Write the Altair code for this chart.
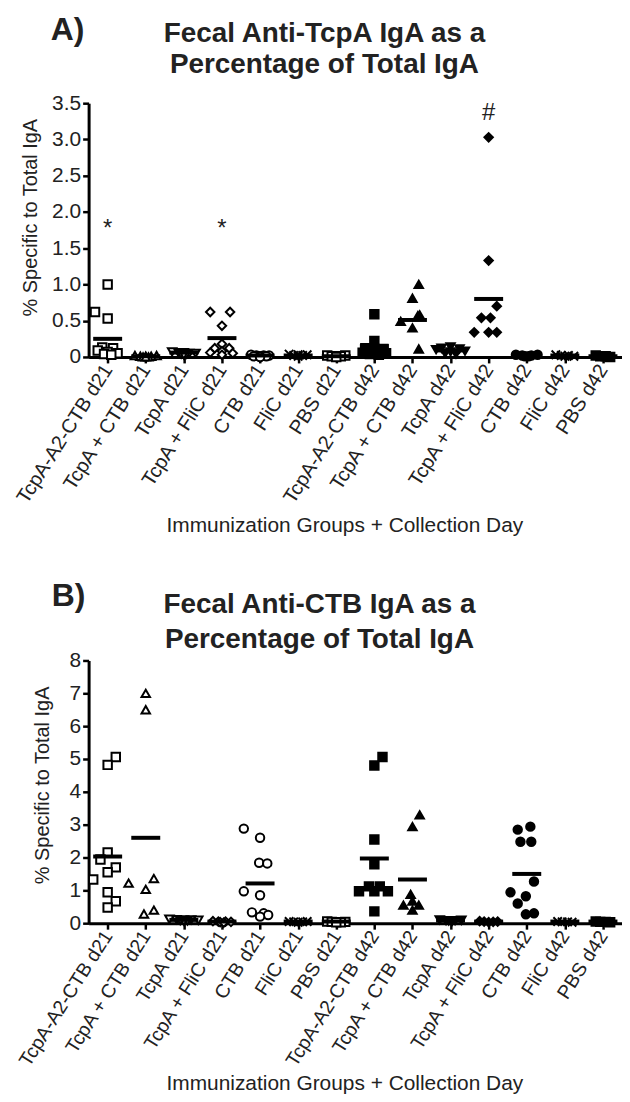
import altair as alt
import pandas as pd

groups = ["TcpA-A2-CTB d21", "TcpA + CTB d21", "TcpA d21", "TcpA + FliC d21", "CTB d21",
          "FliC d21", "PBS d21", "TcpA-A2-CTB d42", "TcpA + CTB d42", "TcpA d42",
          "TcpA + FliC d42", "CTB d42", "FliC d42", "PBS d42"]
bases = ["TcpA-A2-CTB", "TcpA + CTB", "TcpA", "TcpA + FliC", "CTB", "FliC", "PBS"]
shapes = ["square", "triangle-up", "triangle-down", "diamond", "circle",
          "M-1,-1L1,1M-1,1L1,-1", "square"]

# ---------------- Panel A: anti-TcpA (values, horizontal spread) ----------------
a00 = [1.00, 0.62, 0.53, 0.13, 0.12, 0.09, 0.07, 0.05, 0.04, 0.03]
a00j = [0, -1.4, 0, -0.6, 0.6, -1.1, 0, 1.1, -0.4, 0.4]
a01 = [0.02, 0.02, 0.01, 0.01, 0.01, 0.0, 0.0, 0.0]
a01j = [-1.2, 1.2, -0.6, 0, 0.6, -0.3, 0.3, 0]
a02 = [0.07, 0.06, 0.06, 0.05, 0.05, 0.04, 0.04, 0.03]
a02j = [-1.3, -0.6, 0, 0.6, 1.3, -0.3, 0.3, 0]
a03 = [0.62, 0.62, 0.43, 0.18, 0.12, 0.12, 0.08, 0.06, 0.05, 0.03]
a03j = [-1.3, 0.9, 0, 0, -0.8, 0.8, 0, -1.3, 1.2, 0]
a04 = [0.03, 0.02, 0.02, 0.02, 0.01, 0.01, 0.01, 0.0]
a04j = [-1.0, -0.4, 0.4, 1.0, -0.7, 0, 0.7, 0]
a05 = [0.04, 0.03, 0.03, 0.02, 0.02, 0.01]
a05j = [-1.0, 0, 1.0, -0.5, 0.5, 0]
a06 = [0.02, 0.02, 0.01, 0.01, 0.0]
a06j = [-1.0, 1.0, -0.5, 0.5, 0]
a07 = [0.59, 0.22, 0.12, 0.11, 0.11, 0.08, 0.06, 0.05, 0.04, 0.03]
a07j = [0, 0, -1.0, 0, 1.0, 0, -1.3, 1.3, -0.5, 0.5]
a08 = [1.00, 0.81, 0.58, 0.57, 0.49, 0.40, 0.11]
a08j = [0.7, 0, 0.8, 0.6, -1.3, 0, 0.7]
a09 = [0.14, 0.12, 0.11, 0.10, 0.08, 0.07, 0.05, 0.04]
a09j = [0, -1.0, 1.0, -1.6, 1.6, 0, -0.6, 0.6]
a10 = [3.03, 1.33, 0.70, 0.54, 0.54, 0.34, 0.34, 0.34]
a10j = [0, 0, 0.9, -0.8, 0.2, -1.6, 0, 0.9]
a11 = [0.03, 0.03, 0.02, 0.02, 0.01, 0.01]
a11j = [-1.2, 1.2, -0.5, 0.5, -0.2, 0.2]
a12 = [0.03, 0.02, 0.02, 0.01, 0.01]
a12j = [-1.0, -0.4, 0.4, 1.0, 0]
a13 = [0.02, 0.01, 0.01, 0.0]
a13j = [-0.8, -0.3, 0.3, 0.8]
a_means = [0.25, 0.01, 0.06, 0.26, 0.02, 0.02, 0.01, 0.15, 0.51, 0.09, 0.80, 0.02, 0.02, 0.01]
a_marks = ["*", "*", "#"]
a_mark_groups = [0, 3, 10]
a_mark_values = [1.76, 1.76, 3.36]

# ---------------- Panel B: anti-CTB ----------------
b00 = [5.06, 4.82, 2.15, 1.94, 1.70, 1.55, 1.33, 0.94, 0.67, 0.48]
b00j = [0.9, 0, 0, -0.8, 0.9, 0, -1.6, 0, 0.9, 0]
b01 = [7.00, 6.50, 1.36, 1.22, 1.03, 0.40, 0.28]
b01j = [0, 0, 0.9, -1.9, 0, 0.9, -0.2]
b02 = [0.12, 0.11, 0.10, 0.10, 0.09, 0.08, 0.07, 0.06]
b02j = [-1.6, -0.8, 0, 0.8, 1.6, -0.4, 0.4, 0]
b03 = [0.06, 0.05, 0.05, 0.04, 0.03, 0.02]
b03j = [-1.0, -0.4, 0.4, 1.0, -0.2, 0.2]
b04 = [2.88, 2.60, 1.84, 1.82, 0.97, 0.85, 0.33, 0.30, 0.25, 0.20]
b04j = [-1.8, 0, -0.1, 0.8, -1.8, 0, -0.9, 0.4, 0.9, 0]
b05 = [0.05, 0.05, 0.04, 0.04, 0.03]
b05j = [-1.0, 1.0, -0.5, 0.5, 0]
b06 = [0.05, 0.04, 0.04, 0.03, 0.03]
b06j = [-1.0, 1.0, -0.5, 0.5, 0]
b07 = [5.06, 4.80, 2.55, 1.79, 1.12, 1.12, 0.97, 0.97, 0.97, 0.36]
b07j = [0.9, 0, 0, 0, -0.6, 0.6, -1.7, 0, 1.5, 0]
b08 = [3.30, 2.94, 0.88, 0.67, 0.55, 0.55, 0.40]
b08j = [0.8, 0, -0.2, 0, -1.0, 0.7, 0]
b09 = [0.10, 0.09, 0.08, 0.08, 0.07, 0.06]
b09j = [-1.2, 1.2, -0.5, 0.5, -0.2, 0.2]
b10 = [0.06, 0.05, 0.05, 0.04, 0.03]
b10j = [-1.0, 1.0, -0.5, 0.5, 0]
b11 = [2.94, 2.85, 2.48, 2.48, 1.27, 0.94, 0.82, 0.60, 0.30, 0.27]
b11j = [0.4, -1.0, -0.7, 0.5, 0.8, -1.8, -0.1, -1.0, 0.8, -0.1]
b12 = [0.05, 0.04, 0.04, 0.03]
b12j = [-0.8, -0.3, 0.3, 0.8]
b13 = [0.05, 0.04, 0.04, 0.03]
b13j = [-0.8, -0.3, 0.3, 0.8]
b_means = [2.03, 2.60, 0.10, 0.05, 1.21, 0.05, 0.05, 1.97, 1.33, 0.08, 0.05, 1.50, 0.05, 0.05]

a_values = [a00, a01, a02, a03, a04, a05, a06, a07, a08, a09, a10, a11, a12, a13]
a_jits = [a00j, a01j, a02j, a03j, a04j, a05j, a06j, a07j, a08j, a09j, a10j, a11j, a12j, a13j]
b_values = [b00, b01, b02, b03, b04, b05, b06, b07, b08, b09, b10, b11, b12, b13]
b_jits = [b00j, b01j, b02j, b03j, b04j, b05j, b06j, b07j, b08j, b09j, b10j, b11j, b12j, b13j]

FONT = "Liberation Sans"
INK = "#222222"
PLOT_W = 536


def points_df(values, jits):
    rows = []
    for i, g in enumerate(groups):
        base, day = g.rsplit(" ", 1)
        for v, j in zip(values[i], jits[i]):
            rows.append(dict(idx=i, group=g, base=base, day=day, value=v, jit=j))
    return pd.DataFrame(rows)


def text_layer(txt, size, x, y, align):
    return alt.Chart(pd.DataFrame({"t": [txt]})).mark_text(
        font=FONT, fontSize=size, fontWeight="bold", color=INK, align=align, baseline="top"
    ).encode(x=alt.value(x), y=alt.value(y), text="t:N")


def panel(values, jits, means, ymax, ytick_vals, ylabel_expr, height, title_lines,
          letter, head_pos, y_title_pad, y_title_shift, xlab_size, x_title_pad, ann=None):
    xscale = alt.Scale(domain=[-0.5, 13.5], nice=False, zero=False)
    yscale = alt.Scale(domain=[0, ymax], nice=False, zero=True)
    label_expr = "[" + ",".join("'" + g + "'" for g in groups) + "][datum.value]"
    xaxis = alt.Axis(values=list(range(14)), labelExpr=label_expr, labelAngle=-57.5,
                     labelAlign="right", labelBaseline="middle", labelFontSize=xlab_size,
                     labelOverlap=False, labelPadding=3, labelBound=False,
                     title="Immunization Groups + Collection Day", titleFontSize=21,
                     titleFontWeight="normal", titlePadding=x_title_pad,
                     titleX=PLOT_W / 2 - 11, grid=False)
    yaxis = alt.Axis(values=ytick_vals, labelExpr=ylabel_expr, labelFontSize=21,
                     title="% Specific to Total IgA", titleFontSize=20,
                     titleFontWeight="normal", titlePadding=y_title_pad,
                     titleY=height / 2 - y_title_shift, grid=False, labelPadding=2)
    X = lambda f: alt.X(f, scale=xscale, axis=xaxis)
    Y = lambda f: alt.Y(f, scale=yscale, axis=yaxis)

    pts = alt.Chart(points_df(values, jits)).transform_calculate(
        xpos="datum.idx + datum.jit * 0.237"
    ).mark_point(filled=True, stroke="black", strokeWidth=2, size=72, opacity=1).encode(
        x=X("xpos:Q"),
        y=Y("value:Q"),
        shape=alt.Shape("base:N", scale=alt.Scale(domain=bases, range=shapes), legend=None),
        fill=alt.Fill("day:N", scale=alt.Scale(domain=["d21", "d42"], range=["white", "black"]),
                      legend=None),
    )

    mdf = pd.DataFrame({"idx": list(range(14)), "mean": means})
    bars = alt.Chart(mdf).transform_calculate(
        x1="datum.idx - 0.38", x2="datum.idx + 0.38"
    ).mark_rule(strokeWidth=4, color="black").encode(
        x=X("x1:Q"), x2="x2:Q", y=Y("mean:Q"),
    )

    lx, ly, tx, ty1, ty2 = head_pos
    layers = [pts, bars,
              text_layer(letter, 32, lx, ly, "left"),
              text_layer(title_lines[0], 28, tx, ty1, "center"),
              text_layer(title_lines[1], 28, tx, ty2, "center")]
    if ann is not None:
        adf = pd.DataFrame({"idx": ann[1], "value": ann[2], "t": ann[0]})
        layers.append(alt.Chart(adf).mark_text(
            font=FONT, fontSize=24, color=INK, baseline="middle", align="center"
        ).encode(x=X("idx:Q"), y=Y("value:Q"), text="t:N"))

    return alt.layer(*layers).properties(width=PLOT_W, height=height)


chart_a = panel(a_values, a_jits, a_means, 3.5, [0, 0.5, 1.0, 1.5, 2.0, 2.5, 3.0, 3.5],
                "datum.value == 0 ? '0' : format(datum.value, '.1f')", 255,
                ["Fecal Anti-TcpA IgA as a", "Percentage of Total IgA"], "A)",
                (-38, -89, 237, -83, -52), 11, 13, 20, 8,
                ann=(a_marks, a_mark_groups, a_mark_values))
chart_b = panel(b_values, b_jits, b_means, 8, list(range(9)), "format(datum.value, 'd')", 264,
                ["Fecal Anti-CTB IgA as a", "Percentage of Total IgA"], "B)",
                (-37, -80, 232, -70, -35), 17, 7, 19.5, 3)

chart = alt.vconcat(chart_a, chart_b, spacing=44).properties(
    padding={"left": 5, "top": 3, "right": 0, "bottom": 0}
).configure_view(stroke=None).configure_axis(
    domainColor="black", domainWidth=3, tickColor="black", tickWidth=2.5, tickSize=6,
    labelColor=INK, titleColor=INK, labelFont=FONT, titleFont=FONT
)

chart.save("out.html", embed_options={"renderer": "svg", "actions": False})
